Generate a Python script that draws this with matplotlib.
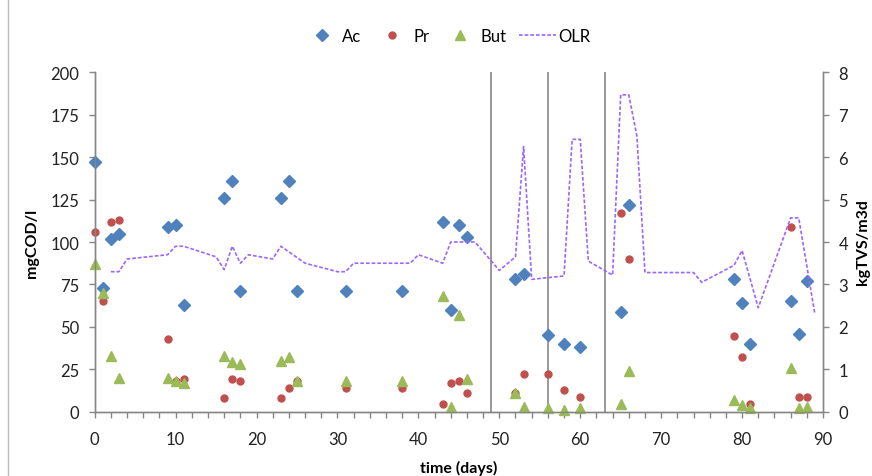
import numpy as np
import matplotlib
matplotlib.use("Agg")
import matplotlib.pyplot as plt
from matplotlib.ticker import MultipleLocator
from matplotlib.lines import Line2D

plt.rcParams["font.family"] = ["Lato", "DejaVu Sans"]

# ── data ─────────────────────────────────────────────────────────────────────
days = [0, 1, 2, 3, 9, 10, 11, 16, 17, 18, 23, 24, 25, 31, 38, 43, 44, 45, 46,
        52, 53, 56, 58, 60, 65, 66, 79, 80, 81, 86, 87, 88]
ac  = [147, 73, 102, 105, 109, 110, 63, 126, 136, 71, 126, 136, 71, 71, 71, 112,
       60, 110, 103, 78, 81, 45, 40, 38, 59, 122, 78, 64, 40, 65, 46, 77]
pr  = [106, 65, 112, 113, 43, 18, 19, 8, 19, 18, 8, 14, 18, 14, 14, 4.5, 17, 18,
       11, 11, 22, 22, 12.5, 8.5, 117, 90, 44.5, 32, 4.7, 109, 8.6, 8.6]
but = [87, 70, 33, 20, 20, 18, 17, 33, 29, 28, 30, 32, 18, 18, 18, 68, 3, 57, 19,
       11, 2.5, 2, 0.8, 2, 4.7, 24, 7, 4, 2.3, 26, 2.3, 3]

olr_days = [2, 3, 4, 9, 10, 11, 15, 16, 17, 18, 19, 22, 23, 26, 30, 31, 32, 39,
            40, 43, 44, 46, 47, 50, 52, 53, 54, 58, 59, 60, 61, 64, 65, 66, 67,
            68, 74, 75, 79, 80, 82, 86, 87, 89]
olr = [3.3, 3.3, 3.6, 3.7, 3.9, 3.9, 3.65, 3.35, 3.9, 3.5, 3.7, 3.6, 3.9, 3.5,
       3.3, 3.3, 3.5, 3.5, 3.7, 3.5, 4.0, 4.0, 4.0, 3.33, 3.65, 6.25, 3.12, 3.2,
       6.42, 6.42, 3.55, 3.22, 7.47, 7.47, 6.5, 3.28, 3.28, 3.05, 3.45, 3.8,
       2.45, 4.57, 4.57, 2.3]

phase_days = [49, 56, 63]

# ── style ────────────────────────────────────────────────────────────────────
c_ac, c_pr, c_but, c_olr = "#4F81BD", "#C0504D", "#9BBB59", "#9966FF"
grey = "#868686"
fs = 12

fig = plt.figure(figsize=(8.72, 4.77), dpi=100)
ax = fig.add_axes([0.1086, 0.1348, 0.8352, 0.7115])
ax2 = ax.twinx()

for d in phase_days:
    ax.axvline(d, color=grey, linewidth=1.2, zorder=1)

ax.plot(days, ac, linestyle="none", marker="D", markersize=6.5, color=c_ac,
        label="Ac", zorder=3, clip_on=False)
ax.plot(days, pr, linestyle="none", marker="o", markersize=5, color=c_pr,
        label="Pr", zorder=3, clip_on=False)
ax.plot(days, but, linestyle="none", marker="^", markersize=7.5, color=c_but,
        label="But", zorder=3, clip_on=False)
ax2.plot(olr_days, olr, color=c_olr, linewidth=1.2, linestyle=(0, (2.2, 1.2)),
         label="OLR")

ax.set_xlim(0, 90)
ax.set_ylim(0, 200)
ax2.set_ylim(0, 8)

ax.xaxis.set_major_locator(MultipleLocator(10))
ax.xaxis.set_minor_locator(MultipleLocator(2))
ax.yaxis.set_major_locator(MultipleLocator(25))
ax2.yaxis.set_major_locator(MultipleLocator(1))

for a in (ax, ax2):
    a.spines["top"].set_visible(False)
    for s in ("left", "right", "bottom"):
        a.spines[s].set_color(grey)
        a.spines[s].set_linewidth(1.0)
    a.tick_params(which="both", direction="out", length=4, width=1.0,
                  color=grey, labelsize=fs, labelcolor="#222222")
ax.tick_params(axis="x", which="both", pad=10)
ax.tick_params(axis="y", pad=7)
ax2.tick_params(axis="y", pad=7)

ax.set_xlabel("time (days)", fontsize=11.5, fontweight="bold", labelpad=9)
fig.text(32 / 872, 1 - 243 / 477, "mgCOD/l", rotation=90, ha="center",
         va="center", fontsize=11.5, fontweight="bold")
fig.text(863 / 872, 1 - 242 / 477, "kgTVS/m3d", rotation=90, ha="center",
         va="center", fontsize=11.5, fontweight="bold")

h1, l1 = ax.get_legend_handles_labels()
h2, l2 = ax2.get_legend_handles_labels()
fig.legend(h1 + h2, l1 + l2, loc="center", bbox_to_anchor=(447 / 872, 1 - 37 / 477),
           ncol=4, frameon=False, fontsize=fs, handlelength=2.2,
           handletextpad=0.15, columnspacing=0.75, numpoints=1)

fig.add_artist(Line2D([7.5 / 872, 7.5 / 872], [0, 1], color="#BBBBBB",
                      linewidth=1.0, transform=fig.transFigure))

fig.savefig("out.png", dpi=100)
